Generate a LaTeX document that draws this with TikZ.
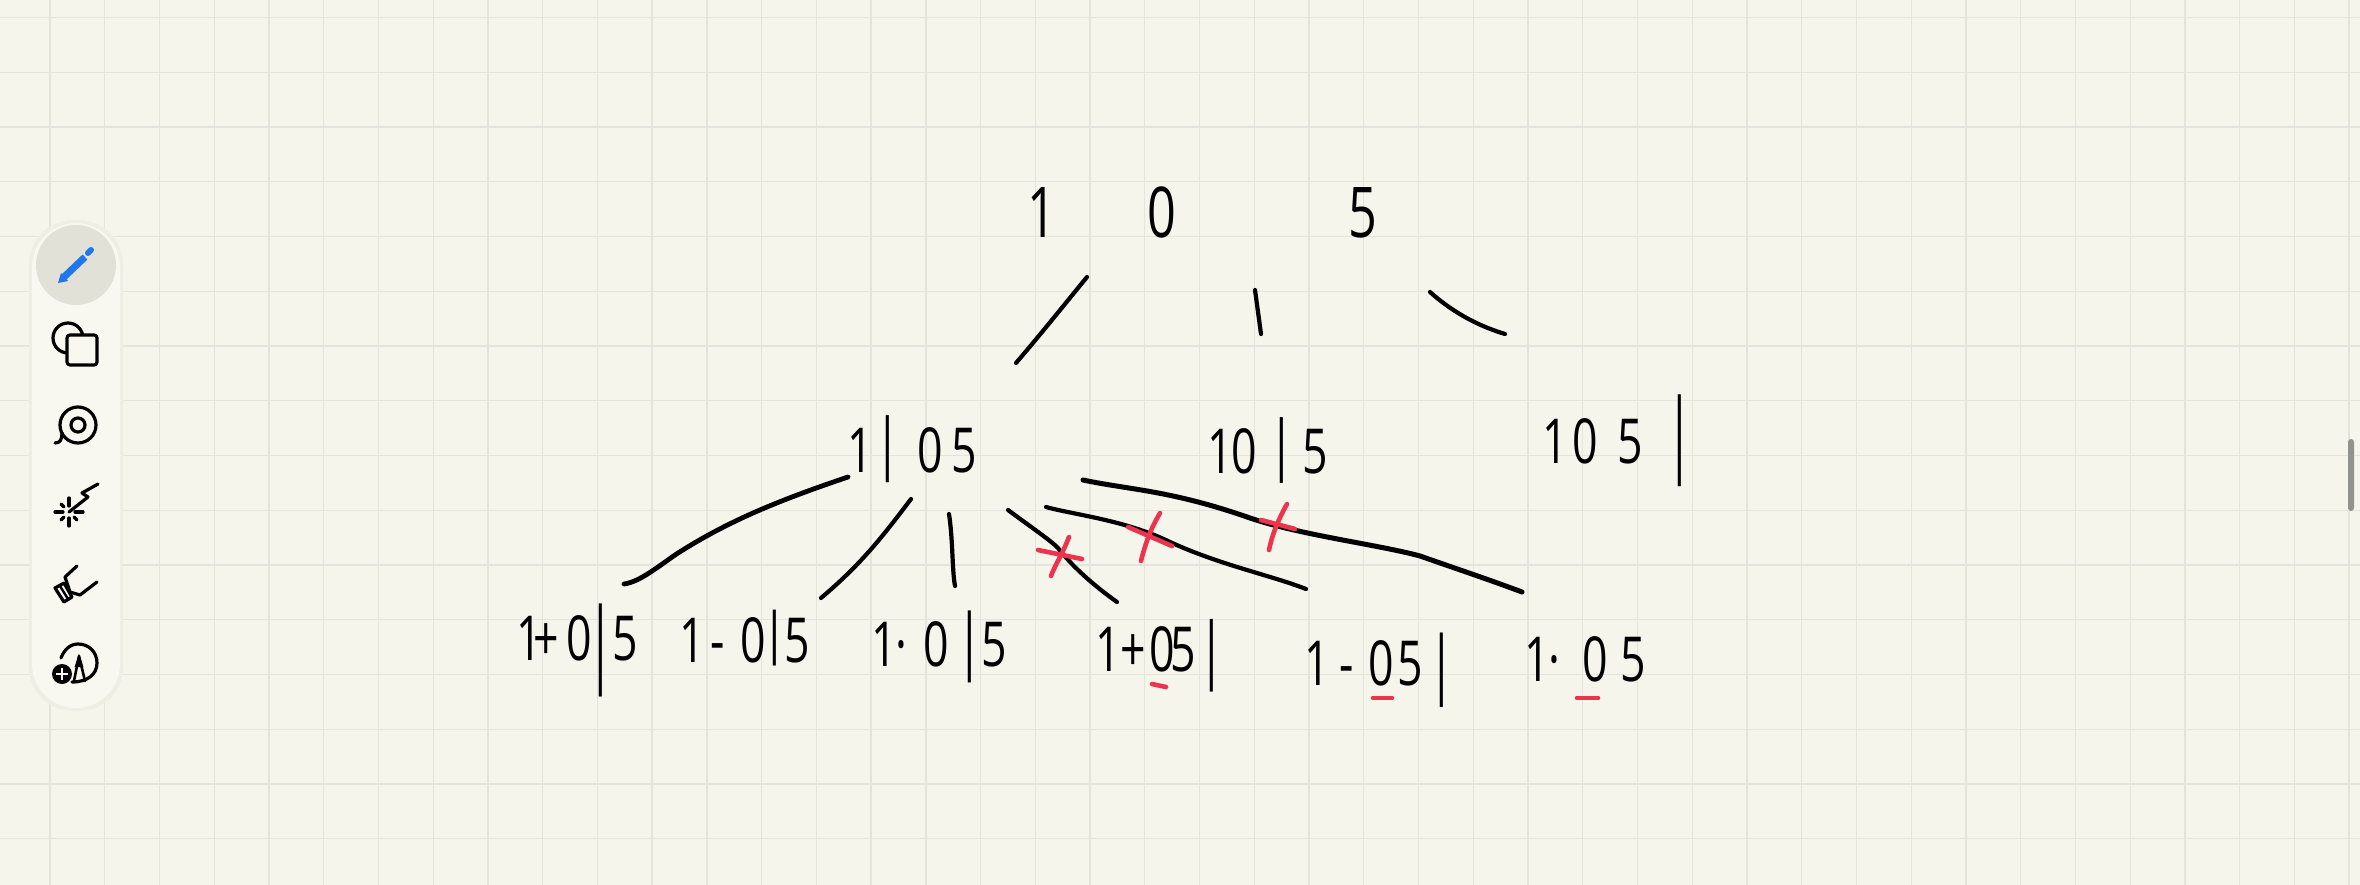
\documentclass[tikz,border=0pt]{standalone}
\usepackage{fontspec}
\setmainfont[FakeStretch=0.72]{Open Sans}
\definecolor{paper}{RGB}{245,245,235}
\definecolor{gridline}{RGB}{228,228,220}
\definecolor{pill}{RGB}{248,248,240}
\definecolor{inkred}{RGB}{236,52,76}
\definecolor{penblue}{RGB}{30,120,235}
\newcommand{\barmark}[2]{\raisebox{#2pt}{\scalebox{1}[#1]{|}}}
\tikzset{
  ink/.style={line width=4.2pt,line cap=round,line join=round,black},
  redink/.style={line width=4.6pt,line cap=round,inkred},
  icon/.style={line width=3.2pt,line join=round,line cap=round,black},
  glyphs/.style={inner sep=0pt,anchor=base west,font=\fontsize{62}{62}\selectfont}
}
\begin{document}
\begin{tikzpicture}[x=1pt,y=-1pt]
   \useasboundingbox (0,0) rectangle (2360,885);
   %paper
   \fill[paper] (0,0) rectangle (2360,885);
   %grid
   \foreach \k in {0,...,42} \draw[gridline,line width=1.3pt] ({50+54.74*\k},0) -- ({50+54.74*\k},885);
   \foreach \k in {0,...,15} \draw[gridline,line width=1.3pt] (0,{17.6+54.74*\k}) -- (2360,{17.6+54.74*\k});
   %scrollbar
   \fill[black!40!paper,rounded corners=3pt] (2348,439) rectangle (2354,511);
   %toolbar
   \fill[black!3!paper,rounded corners=44pt] (29,220) rectangle (123,711);
   \fill[pill,rounded corners=44pt] (32,223) rectangle (120,708);
   \fill[black!8!paper] (76,265) circle (40);
   %pencil
   \draw[penblue,line width=7pt] (63,278) -- (85,257);
   \fill[penblue] (58,283) -- (61,273) -- (68,281) -- cycle;
   \draw[penblue,line width=6pt,line cap=round] (88,253) -- (91,250);
   %shapes
   \draw[icon] (68,338) circle (15);
   \draw[icon,fill=pill,rounded corners=3pt] (67,335) rectangle (97,365);
   %tape
   \draw[icon] (78,425) circle (18) (78,425) circle (7);
   \draw[icon] (62,433) .. controls (62,440) and (60,443) .. (55,443);
   %laser
   \draw[icon] (69,512) -- (88,497) -- (82,493) -- (98,484);
   \draw[icon] (69,498) -- (69,506) (69,518) -- (69,526) (55,512) -- (63,512) (75,512) -- (83,512);
   \draw[icon] (61,504) -- (64,507) (61,520) -- (64,517) (77,520) -- (74,517);
   %eraser
   \draw[icon] (77,566) -- (65,577) -- (70,592) -- (80,595) -- (97,582);
   \draw[icon,fill=pill] (55,588) -- (64,583) -- (72,597) -- (64,602) -- cycle;
   \draw[icon,line width=2.4pt] (60,586) -- (68,599);
   %add tool
   \draw[icon] (61,658) .. controls (64,650) and (70,644) .. (78,644) .. controls (89,644) and (97,652) .. (97,663) .. controls (97,674) and (88,682) .. (72,682);
   \draw[icon,line width=2.6pt] (74,681) -- (79,656) -- (85,681);
   \fill (79,654) -- (74.5,667) -- (83.5,667) -- cycle;
   \fill (62,674) circle (10);
   \draw[pill,line width=2.6pt] (56,674) -- (68,674) (62,668) -- (62,680);
   %first row
   \node[glyphs,font=\fontsize{70}{70}\selectfont] (topnum) at (1027,238) {1\kern91.8pt 0\kern172.2pt 5};
   %second row
   \node[glyphs] (lefttop) at (847,472) {1\kern3.2pt\barmark{1.08}{6}\kern17pt 0\kern8.5pt 5};
   \node[glyphs] (midtop) at (1207,473) {1\kern-1.25pt 0\kern12pt\barmark{1.06}{6}\kern9pt 5};
   \node[glyphs] (righttop) at (1542,463) {1\kern4.75pt 0\kern19.5pt 5\kern24pt\barmark{1.48}{-1.5}};
   %third row
   \node[glyphs] (splita) at (516,660) {1\kern-8pt +\kern7.5pt 0\kern-3.5pt\barmark{1.5}{-14.5}\kern-1pt 5};
   \node[glyphs] (splitb) at (679,662) {1\kern5.3pt -\kern16pt 0\kern-3pt\barmark{0.9}{10}\kern-3pt 5};
   \node[glyphs] (splitc) at (871,666) {1\kern-1.5pt ·\kern16.3pt 0\kern9pt\barmark{1.16}{1}\kern-1pt 5};
   \node[glyphs] (splitd) at (1095,671) {1\kern-0.25pt +\kern3.5pt 0\kern-4.5pt 5\kern3pt\barmark{1.17}{-3}};
   \node[glyphs] (splite) at (1304,685) {1\kern9.3pt -\kern15pt 0\kern3.5pt 5\kern7pt\barmark{1.2}{-4}};
   \node[glyphs] (splitf) at (1524,681) {1\kern-1.5pt ·\kern22.3pt 0\kern12.5pt 5};
   %ends of the branches
   \coordinate (ra) at (1087,277); \coordinate (rb) at (1016,363);
   \coordinate (sa) at (1255,290); \coordinate (sb) at (1261,334);
   \coordinate (ta) at (1430,292); \coordinate (tb) at (1505,334);
   \coordinate (ua) at (848,477);  \coordinate (ub) at (624,584);
   \coordinate (va) at (911,499);  \coordinate (vb) at (821,598);
   \coordinate (wa) at (949,514);  \coordinate (wb) at (955,586);
   \coordinate (xa) at (1008,510); \coordinate (xb) at (1117,602);
   \coordinate (ya) at (1046,507); \coordinate (yb) at (1306,589);
   \coordinate (za) at (1083,480); \coordinate (zb) at (1522,592);
   %branches
   \draw[ink] (ra) .. controls (1060,310) and (1040,335) .. (rb);
   \draw[ink] (sa) -- (sb);
   \draw[ink] (ta) .. controls (1450,310) and (1475,325) .. (tb);
   \draw[ink,line width=4.8pt] (ua) .. controls (780,500) and (730,520) .. (678,553) .. controls (660,565) and (640,582) .. (ub);
   \draw[ink] (va) .. controls (880,540) and (860,565) .. (vb);
   \draw[ink] (wa) .. controls (953,540) and (952,570) .. (wb);
   \draw[ink] (xa) .. controls (1035,530) and (1050,540) .. (1058,548) .. controls (1075,570) and (1100,590) .. (xb);
   \draw[ink] (ya) .. controls (1075,515) and (1125,520) .. (1170,542) .. controls (1220,565) and (1270,575) .. (yb);
   \draw[ink,line width=5pt] (za) .. controls (1130,490) and (1170,490) .. (1250,518) .. controls (1300,535) and (1380,545) .. (1420,556) .. controls (1460,570) and (1490,580) .. (zb);
   %red crosses
   \draw[redink] (1038,550) -- (1082,559) (1069,537) .. controls (1062,555) and (1055,565) .. (1051,576);
   \draw[redink] (1128,527) -- (1172,546) (1160,513) .. controls (1150,530) and (1145,545) .. (1141,561);
   \draw[redink] (1261,520) -- (1295,529) (1287,504) .. controls (1278,520) and (1272,535) .. (1269,550);
   %red marks
   \draw[redink] (1152,684) -- (1166,687);
   \draw[redink] (1373,698) -- (1392,698);
   \draw[redink] (1577,698) -- (1598,698);
\end{tikzpicture}
\end{document}
